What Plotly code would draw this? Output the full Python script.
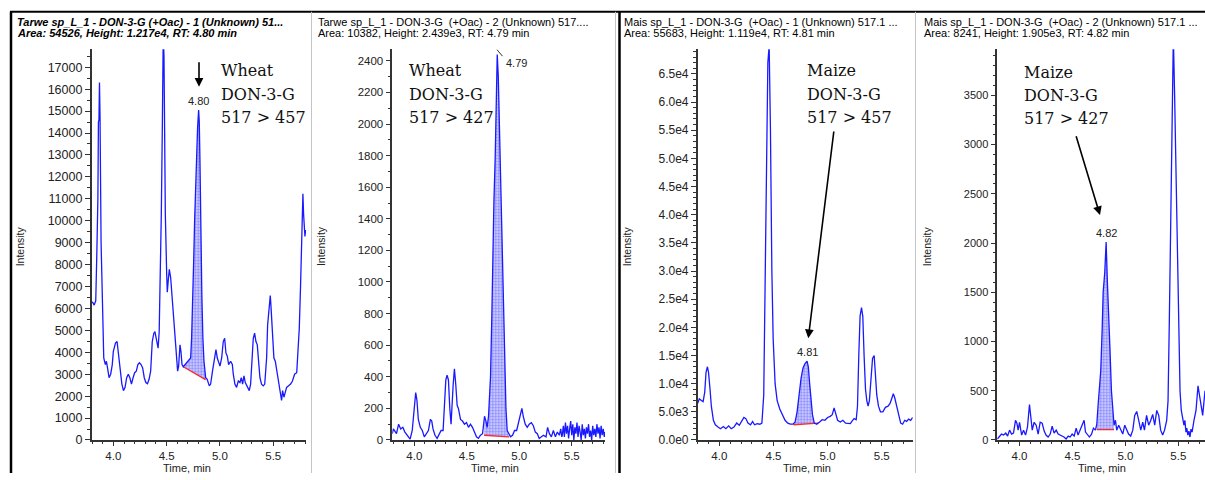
import plotly.graph_objects as go

# ---------------- data ----------------
# Wheat, DON-3-G, MRM 517 > 457
wheat457_time = [3.797, 3.81, 3.82, 3.835, 3.845, 3.855, 3.86, 3.865, 3.87, 3.875,
                 3.885, 3.90, 3.91, 3.925, 3.935, 3.945, 3.96, 3.975, 3.99, 4.00,
                 4.02, 4.035, 4.05, 4.065, 4.08, 4.095, 4.11, 4.125, 4.14, 4.155,
                 4.17, 4.185, 4.20, 4.215, 4.23, 4.245, 4.26, 4.275, 4.29, 4.305,
                 4.32, 4.335, 4.35, 4.365, 4.38, 4.39, 4.40, 4.41, 4.42, 4.43,
                 4.44, 4.45, 4.46, 4.468, 4.475, 4.482, 4.4875, 4.50, 4.506, 4.516,
                 4.525, 4.5375, 4.547, 4.5625, 4.578, 4.594, 4.603, 4.6125, 4.625, 4.634,
                 4.644, 4.656, 4.675, 4.694, 4.7125, 4.725, 4.734, 4.744, 4.753, 4.7625,
                 4.772, 4.78, 4.79, 4.80, 4.806, 4.8125, 4.82, 4.83, 4.84, 4.85,
                 4.866, 4.88, 4.90, 4.9125, 4.93, 4.947, 4.9625, 4.975, 4.9875, 5.00,
                 5.016, 5.031, 5.044, 5.056, 5.069, 5.081, 5.10, 5.116, 5.125, 5.14,
                 5.156, 5.172, 5.1875, 5.20, 5.2125, 5.225, 5.2375, 5.256, 5.275, 5.2875,
                 5.30, 5.3125, 5.325, 5.3375, 5.35, 5.3625, 5.375, 5.39, 5.406, 5.42,
                 5.4375, 5.447, 5.456, 5.466, 5.472, 5.478, 5.484, 5.494, 5.506, 5.519,
                 5.53, 5.544, 5.556, 5.569, 5.578, 5.5875, 5.60, 5.6125, 5.625, 5.644,
                 5.6625, 5.68, 5.70, 5.72, 5.73, 5.744, 5.756, 5.766, 5.772, 5.778,
                 5.784, 5.79, 5.797, 5.803]
wheat457_int = [6300, 6250, 6150, 6350, 8500, 11000, 14500, 14600, 16300, 14800,
                9000, 5240, 3740, 3440, 3590, 3300, 2840, 3000, 3440, 4040,
                4420, 4490, 3740, 3000, 2550, 2250, 2400, 2840, 3000, 2840,
                2550, 2840, 3070, 3140, 3440, 3520, 3440, 3290, 2840, 2620,
                2570, 2770, 3140, 4490, 4870, 4940, 4640, 4340, 4190, 4940,
                7330, 10330, 14500, 18500, 17500, 13000, 10330, 7630, 6740, 7330,
                7780, 7410, 6740, 5840, 4790, 3740, 3140, 3370, 4340, 4040,
                3440, 3340, 3440, 3590, 3670, 3740, 4640, 6140, 8080, 10030,
                11830, 12970, 14230, 15050, 14500, 12700, 9580, 6590, 4640, 3590,
                2840, 2770, 2470, 2550, 3140, 3590, 4120, 3740, 3520, 3370,
                3740, 4490, 4640, 3970, 3820, 3440, 3590, 3440, 3000, 2550,
                2400, 2690, 2620, 2840, 2550, 2920, 2620, 2400, 2250, 2550,
                3440, 4640, 4870, 4490, 4340, 3590, 2840, 2550, 2470, 2550,
                3740, 5240, 5690, 6290, 6590, 6140, 5540, 5090, 3740, 3590,
                3290, 2840, 2550, 2170, 1800, 2250, 1950, 2170, 2400, 2470,
                2550, 2690, 3000, 3070, 3740, 5090, 7040, 8830, 10030, 11230,
                10330, 9880, 9280, 9580]
wheat457_base = [(4.656, 3340), (4.866, 2750)]

# Wheat, DON-3-G, MRM 517 > 427
wheat427_time = [3.79, 3.80, 3.83, 3.85, 3.87, 3.89, 3.91, 3.94, 3.96, 3.98,
                 4.00, 4.013, 4.025, 4.038, 4.057, 4.076, 4.095, 4.115, 4.134, 4.153,
                 4.166, 4.178, 4.197, 4.217, 4.236, 4.255, 4.274, 4.287, 4.30, 4.312,
                 4.325, 4.338, 4.35, 4.37, 4.382, 4.395, 4.408, 4.42, 4.44, 4.459,
                 4.478, 4.497, 4.516, 4.535, 4.554, 4.573, 4.592, 4.611, 4.63, 4.65,
                 4.669, 4.682, 4.694, 4.707, 4.715, 4.726, 4.739, 4.748, 4.758, 4.771,
                 4.78, 4.79, 4.80, 4.81, 4.818, 4.834, 4.854, 4.86, 4.873, 4.885,
                 4.898, 4.917, 4.936, 4.955, 4.975, 4.99, 5.006, 5.025, 5.038, 5.057,
                 5.076, 5.095, 5.115, 5.134, 5.153, 5.172, 5.19, 5.21, 5.23, 5.255,
                 5.27, 5.287, 5.306, 5.325, 5.344, 5.363, 5.382, 5.395, 5.405,
                 5.41, 5.42, 5.43, 5.44, 5.45, 5.46, 5.47, 5.48, 5.49, 5.50,
                 5.51, 5.52, 5.53, 5.54, 5.55, 5.56, 5.57, 5.58, 5.59, 5.60,
                 5.61, 5.62, 5.63, 5.64, 5.65, 5.66, 5.67, 5.68, 5.69, 5.70,
                 5.71, 5.72, 5.73, 5.74, 5.75, 5.76, 5.77, 5.78, 5.79, 5.80,
                 5.81, 5.817]
wheat427_int = [40, 70, 40, 100, 70, 80, 50, 20, 5, 60,
                200, 300, 250, 130, 80, 60, 20, 40, 60, 130,
                120, 70, 30, 10, 40, 60, 60, 200, 380, 410,
                380, 200, 100, 350, 450, 350, 220, 200, 130, 120,
                100, 110, 80, 100, 80, 50, 20, 10, 30, 40,
                150, 120, 80, 150, 250, 400, 800, 1200, 1500, 1800,
                2100, 2440, 2300, 2000, 1800, 1200, 600, 400, 200, 60,
                40, 20, 30, 60, 60, 100, 150, 200, 150, 100,
                80, 100, 110, 90, 50, 40, 10, 20, 30, 20,
                80, 40, 20, 60, 20, 50, 30, 70, 20,
                30, 90, 20, 110, 40, 90, 10, 70, 120, 30,
                100, 0, 80, 40, 110, 20, 90, 50, 0, 100,
                30, 70, 10, 80, 40, 100, 20, 60, 0, 90,
                30, 70, 20, 100, 40, 80, 10, 90, 30, 70,
                20, 50]
wheat427_base = [(4.665, 30), (4.904, 20)]

# Maize, DON-3-G, MRM 517 > 457
maize457_time = [3.80, 3.815, 3.834, 3.85, 3.865, 3.877, 3.89, 3.90, 3.914, 3.926,
                 3.945, 3.963, 3.988, 4.01, 4.037, 4.06, 4.086, 4.11, 4.135, 4.16,
                 4.184, 4.21, 4.227, 4.245, 4.264, 4.288, 4.307, 4.325, 4.35, 4.374,
                 4.393, 4.41, 4.423, 4.436, 4.448, 4.46, 4.472, 4.485, 4.497, 4.515,
                 4.534, 4.558, 4.583, 4.607, 4.632, 4.656, 4.68, 4.70, 4.718, 4.736,
                 4.755, 4.773, 4.79, 4.81, 4.822, 4.834, 4.847, 4.86, 4.877, 4.90,
                 4.926, 4.95, 4.975, 5.00, 5.024, 5.043, 5.06, 5.074, 5.092, 5.117,
                 5.141, 5.166, 5.19, 5.21, 5.227, 5.245, 5.264, 5.276, 5.288, 5.30,
                 5.313, 5.325, 5.337, 5.35, 5.362, 5.374, 5.386, 5.40, 5.415, 5.43,
                 5.442, 5.454, 5.47, 5.488, 5.51, 5.534, 5.558, 5.577, 5.595, 5.607,
                 5.62, 5.638, 5.656, 5.675, 5.693, 5.712, 5.73, 5.748, 5.767, 5.786]
maize457_int = [6500, 7300, 7000, 6800, 8500, 12000, 13000, 12000, 9000, 6000,
                3500, 2700, 2300, 2000, 2400, 2000, 2500, 2000, 2300, 3000,
                2600, 3500, 4000, 3800, 3000, 2700, 3300, 2700, 2900, 2800,
                3000, 8000, 25000, 50000, 67000, 70000, 55000, 30000, 18000, 10000,
                7000, 5500, 4500, 3500, 3000, 2800, 2800, 3200, 5000, 8000,
                11000, 12800, 13500, 14000, 13000, 10000, 7000, 4500, 3000, 2800,
                3200, 3600, 3500, 4000, 4200, 4500, 5700, 4800, 3500, 3200,
                3500, 3000, 3000, 2900, 3400, 3800, 3600, 6000, 15000, 22000,
                23500, 22000, 15000, 9000, 7000, 6000, 7000, 11000, 14500, 15000,
                12000, 8000, 6000, 5000, 5000, 5800, 6000, 6500, 7500, 8200,
                7500, 6000, 4500, 3000, 2800, 3500, 3300, 3700, 3500, 4000]
maize457_base = [(4.684, 2700), (4.914, 3000)]

# Maize, DON-3-G, MRM 517 > 427
maize427_time = [3.79, 3.81, 3.83, 3.85, 3.87, 3.887, 3.906, 3.925, 3.943, 3.962,
                 3.975, 3.987, 4.00, 4.02, 4.038, 4.057, 4.075, 4.094, 4.107, 4.12,
                 4.138, 4.157, 4.176, 4.195, 4.214, 4.233, 4.25, 4.27, 4.29, 4.308,
                 4.327, 4.346, 4.365, 4.384, 4.40, 4.42, 4.44, 4.46, 4.478, 4.497,
                 4.516, 4.535, 4.553, 4.572, 4.59, 4.61, 4.623, 4.64, 4.66, 4.68,
                 4.698, 4.717, 4.73, 4.742, 4.755, 4.767, 4.78, 4.79, 4.805, 4.818,
                 4.83, 4.843, 4.855, 4.868, 4.88, 4.893, 4.906, 4.918, 4.937, 4.956,
                 4.975, 4.994, 5.013, 5.03, 5.05, 5.07, 5.088, 5.107, 5.126, 5.145,
                 5.164, 5.18, 5.20, 5.22, 5.24, 5.258, 5.277, 5.296, 5.315, 5.333,
                 5.352, 5.37, 5.39, 5.403, 5.415, 5.428, 5.44, 5.453, 5.465, 5.478,
                 5.49, 5.503, 5.516, 5.528, 5.54, 5.553, 5.562, 5.572, 5.58, 5.59,
                 5.60, 5.61, 5.62, 5.63, 5.648, 5.667, 5.686, 5.70, 5.71, 5.73,
                 5.752]
maize427_int = [10, 40, 60, 50, 70, 40, 100, 60, 70, 200,
                170, 100, 180, 50, 100, 50, 130, 360, 200, 100,
                180, 150, 60, 180, 170, 90, 50, 30, 60, 140,
                70, 100, 60, 50, 40, 30, 10, 40, 30, 60,
                40, 120, 50, 100, 140, 200, 80, 60, 30, 60,
                120, 100, 160, 350, 500, 700, 1100, 1500, 1700, 2010,
                1600, 1300, 900, 500, 300, 150, 200, 100, 150, 100,
                60, 150, 100, 60, 40, 100, 250, 290, 200, 100,
                180, 100, 250, 150, 200, 260, 150, 300, 250, 100,
                50, 100, 200, 400, 1200, 2200, 3300, 4100, 3500, 2700,
                1800, 1000, 500, 300, 200, 150, 200, 80, 120, 50,
                90, 30, 110, 80, 200, 300, 550, 450, 350, 250,
                500]
maize427_base = [(4.73, 105), (4.893, 105)]

panel_titles = [
    ("<b><i>Tarwe sp_L_1 - DON-3-G (+Oac) - 1 (Unknown) 51...</i></b>",
     "<b><i>Area: 54526, Height: 1.217e4, RT: 4.80 min</i></b>"),
    ("Tarwe sp_L_1 - DON-3-G  (+Oac) - 2 (Unknown) 517....",
     "Area: 10382, Height: 2.439e3, RT: 4.79 min"),
    ("Mais sp_L_1 - DON-3-G  (+Oac) - 1 (Unknown) 517.1 ...",
     "Area: 55683, Height: 1.119e4, RT: 4.81 min"),
    ("Mais sp_L_1 - DON-3-G  (+Oac) - 2 (Unknown) 517.1 ...",
     "Area: 8241, Height: 1.905e3, RT: 4.82 min"),
]
panel_labels = [["Wheat", "DON-3-G", "517 > 457"],
                ["Wheat", "DON-3-G", "517 > 427"],
                ["Maize", "DON-3-G", "517 > 457"],
                ["Maize", "DON-3-G", "517 > 427"]]
peak_rt = [4.80, 4.79, 4.81, 4.82]
peak_height = [15050, 2440, 14000, 2010]

y_ticks_maize457 = [0, 5000, 10000, 15000, 20000, 25000, 30000, 35000,
                    40000, 45000, 50000, 55000, 60000, 65000]
y_ticktext_maize457 = ["0.0e0", "5.0e3", "1.0e4", "1.5e4", "2.0e4", "2.5e4", "3.0e4",
                       "3.5e4", "4.0e4", "4.5e4", "5.0e4", "5.5e4", "6.0e4", "6.5e4"]

# ---------------- layout helpers ----------------
W, H = 1205, 480


def px(x):
    return x / W


def py(y):
    return 1 - y / H


series = [
    (wheat457_time, wheat457_int, wheat457_base),
    (wheat427_time, wheat427_int, wheat427_base),
    (maize457_time, maize457_int, maize457_base),
    (maize427_time, maize427_int, maize427_base),
]

# plot-area edges (pixels) and axis ranges for each panel
x_px = [(91.7, 306.0), (392.3, 605.0), (697.7, 912.7), (997.3, 1205.0)]
x_rng = [(3.797, 5.807), (3.79, 5.817), (3.80, 5.786), (3.79, 5.752)]
y_rng = [(0, 17820), (0, 2473), (0, 69380), (0, 3968)]
y_dtick = [1000, 200, 5000, 500]
y_minor = [500, 100, 1000, 100]
ytick_size = [12.5, 11.5, 12, 11]
y_top_px, y_bot_px = 50.0, 446.5

BLUE = "rgb(25,25,255)"
fig = go.Figure()

for i, (t, v, base) in enumerate(series):
    xa = "x" if i == 0 else f"x{i + 1}"
    ya = "y" if i == 0 else f"y{i + 1}"
    (t0, b0), (t1, b1) = base
    # integrated peak area: trace between the baseline end points, closed by the baseline
    area_x = [t0] + [tt for tt in t if t0 < tt < t1] + [t1]
    area_y = [b0] + [vv for tt, vv in zip(t, v) if t0 < tt < t1] + [b1]
    fig.add_trace(go.Scatter(
        x=area_x, y=area_y, xaxis=xa, yaxis=ya, mode="lines",
        fill="toself", fillcolor="white",
        fillpattern=dict(shape=".", size=3, solidity=0.7,
                         fgcolor="rgb(30,30,255)", bgcolor="white"),
        line=dict(width=0, color=BLUE), hoverinfo="skip", showlegend=False))
    fig.add_trace(go.Scatter(
        x=[t0, t1], y=[b0, b1], xaxis=xa, yaxis=ya, mode="lines",
        line=dict(color="rgb(255,40,40)", width=1.4), showlegend=False))
    fig.add_trace(go.Scatter(
        x=t, y=v, xaxis=xa, yaxis=ya, mode="lines",
        line=dict(color=BLUE, width=1.3), showlegend=False))

axis_common = dict(showline=True, linecolor="#333", linewidth=1.5, showgrid=False,
                   zeroline=False, ticks="outside", tickcolor="#333")

layout = dict(width=W, height=H, margin=dict(l=0, r=0, t=0, b=0),
              paper_bgcolor="white", plot_bgcolor="white", showlegend=False)

for i in range(4):
    xk = "xaxis" if i == 0 else f"xaxis{i + 1}"
    yk = "yaxis" if i == 0 else f"yaxis{i + 1}"
    xid = "x" if i == 0 else f"x{i + 1}"
    yid = "y" if i == 0 else f"y{i + 1}"
    xa = dict(axis_common)
    xa.update(domain=[px(x_px[i][0]), px(x_px[i][1])], range=list(x_rng[i]),
              anchor=yid, tickvals=[4.0, 4.5, 5.0, 5.5], ticktext=["4.0", "4.5", "5.0", "5.5"],
              ticklen=4, minor=dict(dtick=0.1, tick0=4.0, ticklen=2, ticks="outside", tickcolor="#333"),
              tickfont=dict(family="Liberation Sans, Arial", color="#222", size=11.5))
    ya = dict(axis_common)
    ya.update(domain=[py(y_bot_px), py(y_top_px)], range=list(y_rng[i]), anchor=xid,
              ticklen=5, minor=dict(dtick=y_minor[i], tick0=0, ticklen=2.5,
                                    ticks="outside", tickcolor="#333"),
              tickfont=dict(family="Liberation Sans, Arial", color="#222", size=ytick_size[i]))
    if i == 2:
        ya.update(tickvals=y_ticks_maize457, ticktext=y_ticktext_maize457)
    else:
        ya.update(dtick=y_dtick[i], tick0=0, tickformat="d")
    layout[xk] = xa
    layout[yk] = ya

fig.update_layout(**layout)

# ---------------- frame lines ----------------
shapes = [
    dict(type="line", xref="paper", yref="paper", x0=px(10), x1=px(1205), y0=py(12), y1=py(12),
         line=dict(color="black", width=2)),
    dict(type="line", xref="paper", yref="paper", x0=px(11), x1=px(11), y0=py(12), y1=py(480),
         line=dict(color="black", width=2.5)),
    dict(type="line", xref="paper", yref="paper", x0=px(619.5), x1=px(619.5), y0=py(12), y1=py(480),
         line=dict(color="black", width=2.5)),
]
for sx in (311.5, 615.5, 915.5):
    shapes.append(dict(type="line", xref="paper", yref="paper", x0=px(sx), x1=px(sx),
                       y0=py(12), y1=py(480), line=dict(color="#c4c4c4", width=1)))
# leader line for the 4.79 label
shapes.append(dict(type="line", xref="paper", yref="paper", x0=px(497), x1=px(502.5),
                   y0=py(50.5), y1=py(57), line=dict(color="#333", width=1)))
fig.update_layout(shapes=shapes)

# ---------------- text ----------------
ann = []
title_x = [15, 316, 622, 922]
title_size = [11, 11, 11, 11]
for i, (l1, l2) in enumerate(panel_titles):
    for txt, yy in ((l1, 22.5), (l2, 33.5)):
        ann.append(dict(text=txt, x=px(title_x[i]), y=py(yy), xref="paper", yref="paper",
                        xanchor="left", yanchor="middle", showarrow=False,
                        font=dict(family="Liberation Sans, Arial", size=title_size[i], color="black")))

label_x = [218.5, 406.7, 805, 1021.7]
label_y = [[72, 95.5, 119], [72, 95.5, 119], [72, 95.5, 119], [74, 97, 120]]
for i, lines in enumerate(panel_labels):
    for txt, yy in zip(lines, label_y[i]):
        ann.append(dict(text=txt, x=px(label_x[i]), y=py(yy), xref="paper", yref="paper",
                        xanchor="left", yanchor="middle", showarrow=False,
                        font=dict(family="DejaVu Serif", size=16, color="#111")))

# retention-time labels at the peak apex
for i in range(4):
    xid = "x" if i == 0 else f"x{i + 1}"
    yid = "y" if i == 0 else f"y{i + 1}"
    if i == 1:
        ann.append(dict(text=f"{peak_rt[i]:.2f}", x=peak_rt[i], y=peak_height[i], xref=xid, yref=yid,
                        xanchor="left", yanchor="middle", xshift=7, yshift=-9, showarrow=False,
                        font=dict(family="Liberation Sans, Arial", size=11, color="#222")))
    else:
        ann.append(dict(text=f"{peak_rt[i]:.2f}", x=peak_rt[i], y=peak_height[i], xref=xid, yref=yid,
                        xanchor="center", yanchor="bottom", yshift=1, showarrow=False,
                        font=dict(family="Liberation Sans, Arial", size=11, color="#222")))

# arrows pointing at the DON-3-G peaks
arrows = [((199, 88), (199, 62)), ((808.3, 343.3), (834, 135)), ((1100, 218.3), (1075.7, 138))]
for (hx, hy), (tx, ty) in arrows:
    ann.append(dict(text="", x=px(hx), y=py(hy), xref="paper", yref="paper",
                    ax=tx - hx, ay=ty - hy, axref="pixel", ayref="pixel",
                    showarrow=True, arrowhead=2, arrowsize=1.1, arrowwidth=1.6,
                    arrowcolor="black"))

ytitle_x = [20, 321.7, 627, 927]
xtitle_x = [186.7, 495, 806.7, 1101.7]
for i in range(4):
    ann.append(dict(text="Intensity", x=px(ytitle_x[i]), y=py(250), xref="paper", yref="paper",
                    xanchor="center", yanchor="middle", textangle=-90, showarrow=False,
                    font=dict(family="Liberation Sans, Arial", size=10.5, color="#222")))
    ann.append(dict(text="Time, min", x=px(xtitle_x[i]), y=py(475), xref="paper", yref="paper",
                    xanchor="center", yanchor="middle", showarrow=False,
                    font=dict(family="Liberation Sans, Arial", size=11, color="#222")))

fig.update_layout(annotations=ann)
fig.write_html("out.html")
